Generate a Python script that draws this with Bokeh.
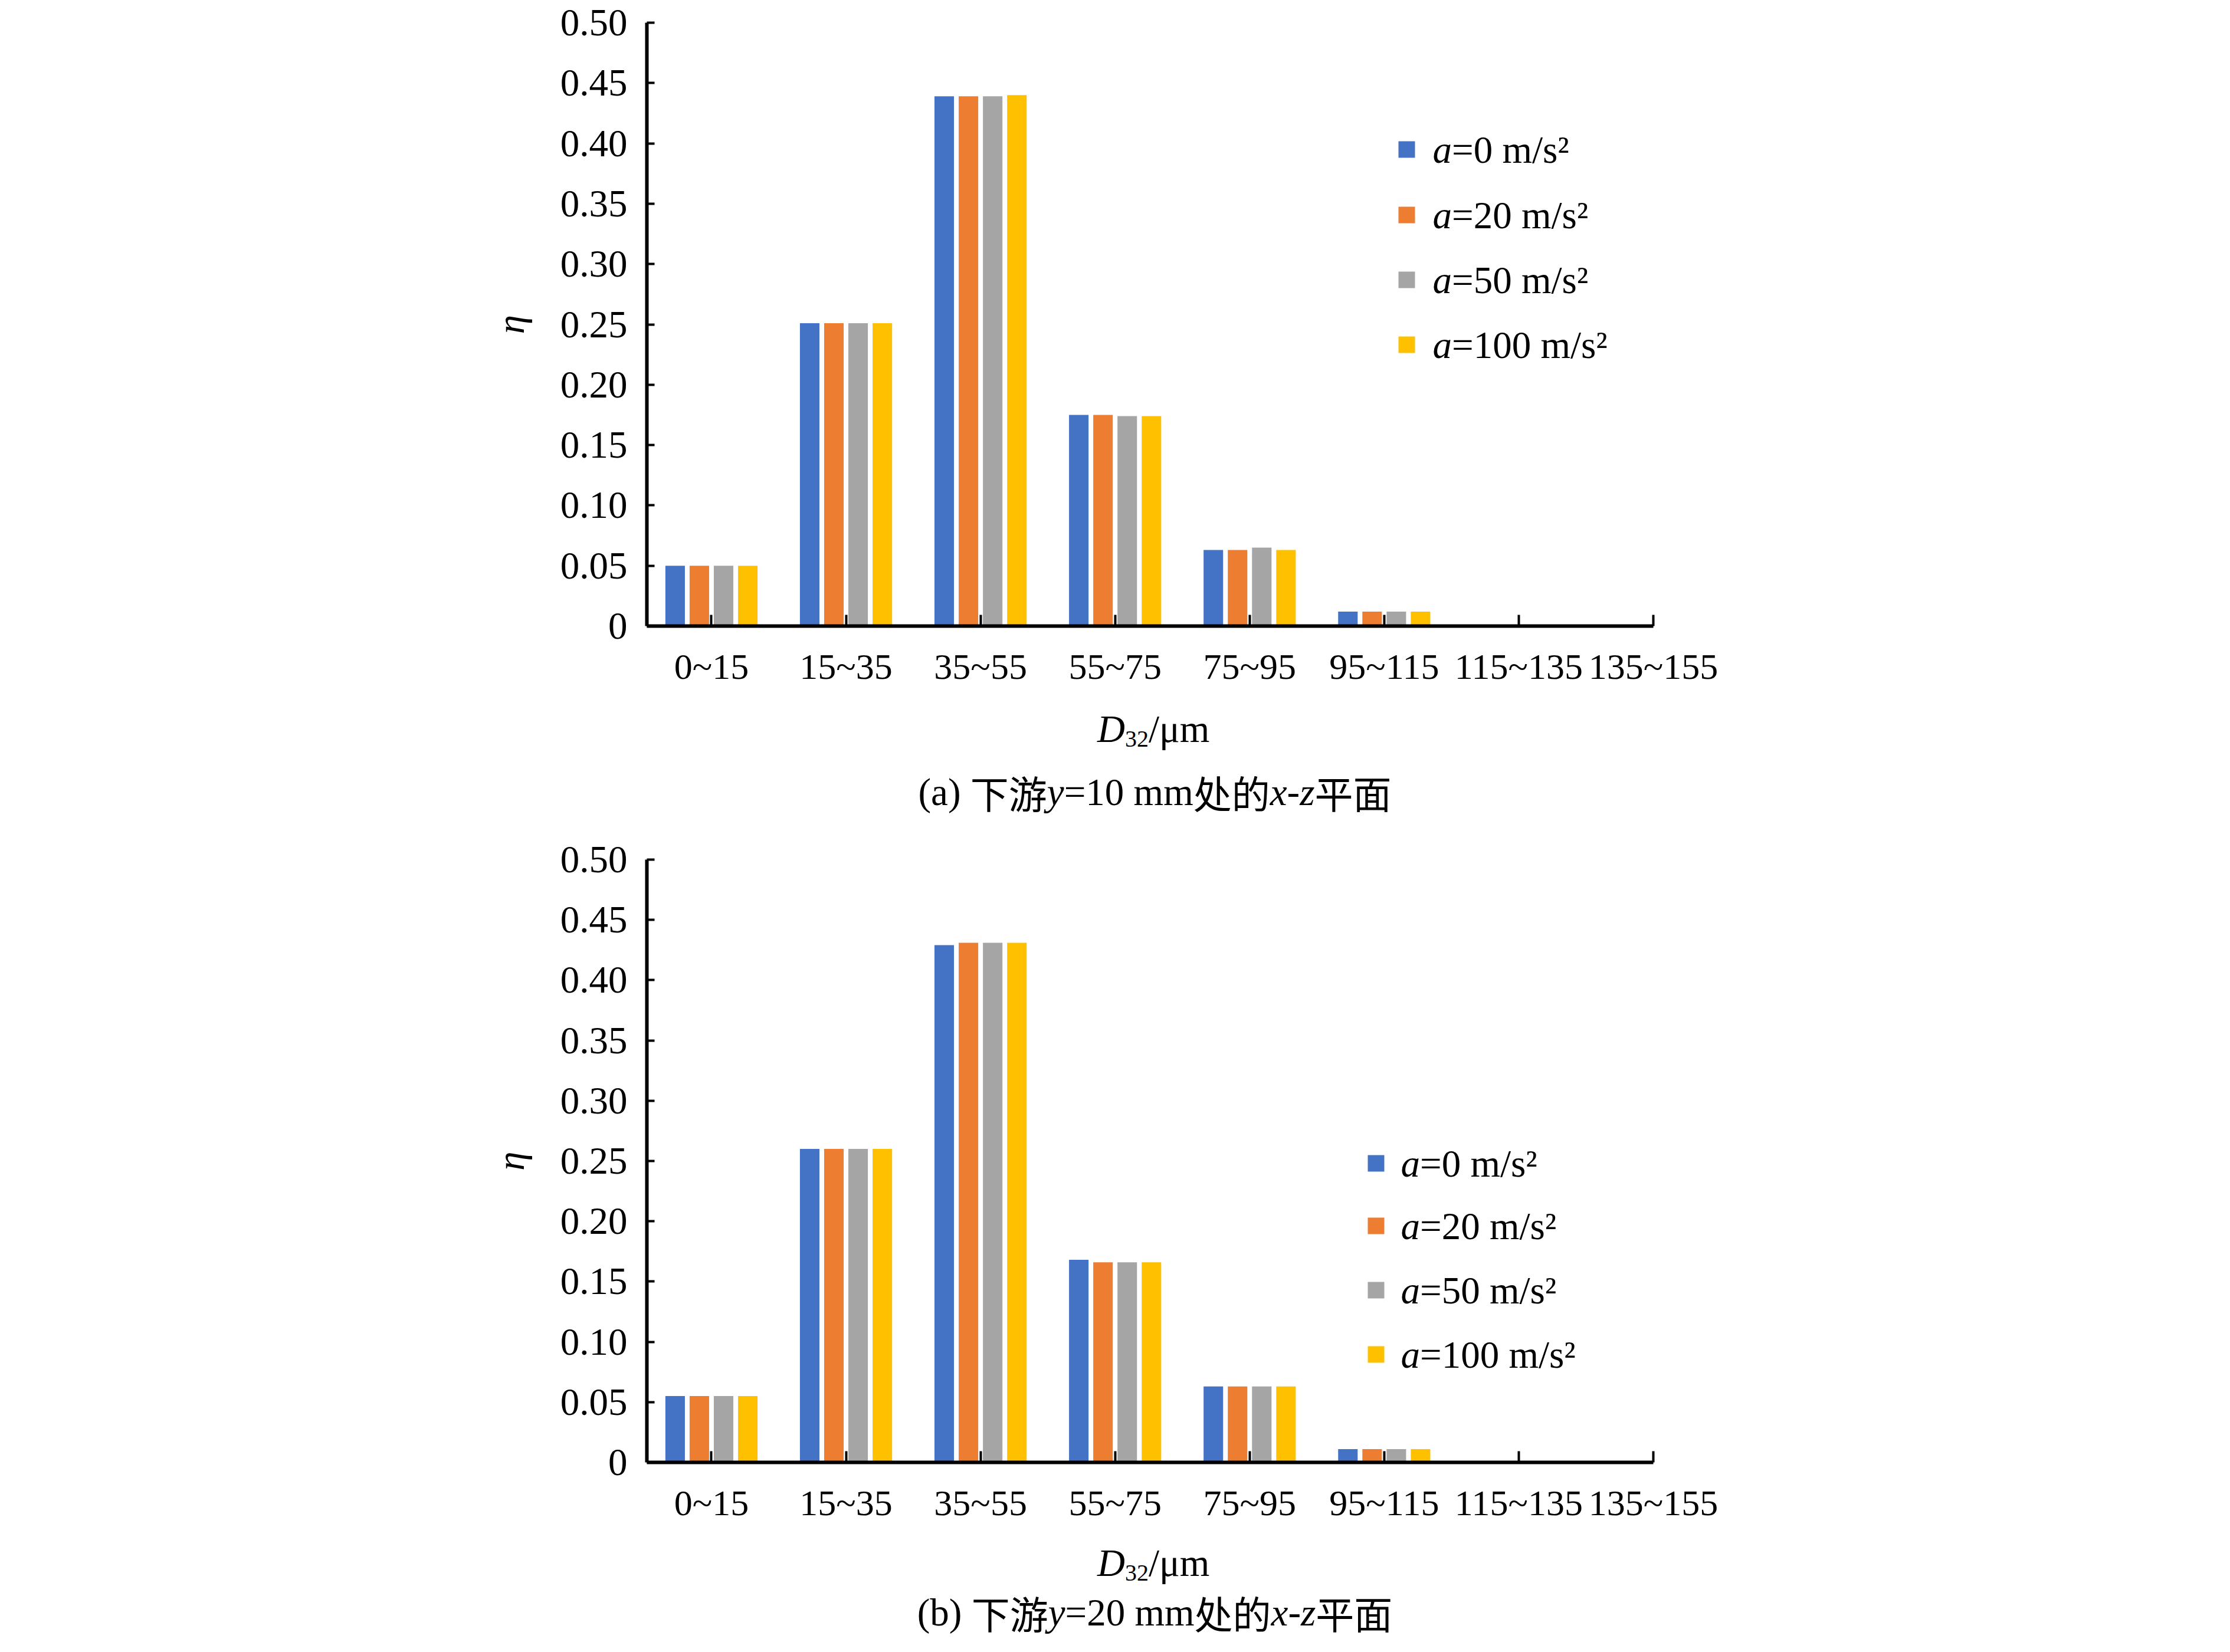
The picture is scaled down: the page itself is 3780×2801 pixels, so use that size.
from bokeh.plotting import figure
from bokeh.models import Range1d, FixedTicker, Label, BoxAnnotation, ColumnDataSource
from bokeh.layouts import column
from bokeh.embed import file_html
from bokeh.resources import INLINE

# ---------------- data ----------------
categories = ["0~15", "15~35", "35~55", "55~75", "75~95", "95~115", "115~135", "135~155"]
accel = ["0", "20", "50", "100"]
colors = ["#4472C4", "#ED7D31", "#A5A5A5", "#FFC000"]

# (a) y = 10 mm
eta_a_0 = [0.050, 0.251, 0.439, 0.175, 0.063, 0.012, 0.0, 0.0]
eta_a_20 = [0.050, 0.251, 0.439, 0.175, 0.063, 0.012, 0.0, 0.0]
eta_a_50 = [0.050, 0.251, 0.439, 0.174, 0.065, 0.012, 0.0, 0.0]
eta_a_100 = [0.050, 0.251, 0.440, 0.174, 0.063, 0.012, 0.0, 0.0]

# (b) y = 20 mm
eta_b_0 = [0.055, 0.260, 0.429, 0.168, 0.063, 0.011, 0.0, 0.0]
eta_b_20 = [0.055, 0.260, 0.431, 0.166, 0.063, 0.011, 0.0, 0.0]
eta_b_50 = [0.055, 0.260, 0.431, 0.166, 0.063, 0.011, 0.0, 0.0]
eta_b_100 = [0.055, 0.260, 0.431, 0.166, 0.063, 0.011, 0.0, 0.0]

y_ticks = [0.0, 0.05, 0.10, 0.15, 0.20, 0.25, 0.30, 0.35, 0.40, 0.45, 0.50]

# ---------------- style ----------------
SERIF = "Liberation Serif"
CJK = "Noto Sans CJK SC"
FS = 65
PAGE_W = 3764
FRAME_LEFT = 1096
FRAME_W = 1706
FRAME_RIGHT = PAGE_W - FRAME_LEFT - FRAME_W
BAR_W = 0.145
BAR_STEP = 0.18

# Times-compatible advance widths (em) used to lay out mixed-style text runs
ADV_N = {"(": 0.333, ")": 0.333, "a": 0.444, "b": 0.5, " ": 0.25, "=": 0.564,
         "m": 0.778, "-": 0.333, "/": 0.278, "s": 0.389, "\u00b2": 0.3, "\u03bc": 0.576}
ADV_I = {"a": 0.5, "y": 0.444, "x": 0.444, "z": 0.389, "D": 0.722}


def run_width(text, size, font, italic):
    w = 0.0
    for ch in text:
        if font == CJK:
            w += 1.0
        elif ch.isdigit():
            w += 0.5
        elif italic:
            w += ADV_I.get(ch, 0.5)
        else:
            w += ADV_N.get(ch, 0.5)
    return w * size


def add_runs(p, runs, cx, y):
    """runs: list of (text, font, italic, size, dy); centred at cx, middle at y (screen units)."""
    total = sum(run_width(t, s, f, i) for t, f, i, s, dy in runs)
    x = cx - total / 2.0
    for t, f, i, s, dy in runs:
        p.add_layout(Label(x=x, y=y + dy, x_units="screen", y_units="screen", text=t,
                           text_font=f, text_font_size=f"{s}px",
                           text_font_style="italic" if i else "normal",
                           text_color="black", text_align="left",
                           text_baseline="middle"))
        x += run_width(t, s, f, i)


def make_chart(series, height, top, frame_h, sq_left, rows, text_x):
    bottom = height - top - frame_h
    p = figure(width=PAGE_W, height=height, output_backend="svg", toolbar_location=None,
               x_range=Range1d(-0.48, 7.0), y_range=Range1d(0, 0.5),
               min_border_left=FRAME_LEFT, min_border_right=FRAME_RIGHT,
               min_border_top=top, min_border_bottom=bottom)
    p.outline_line_color = None
    p.grid.visible = False
    p.background_fill_color = "white"
    p.border_fill_color = "white"

    idx = list(range(len(categories)))
    for k, vals in enumerate(series):
        off = (k - 1.5) * BAR_STEP
        src = ColumnDataSource(dict(x=[i + off for i in idx], top=vals))
        p.vbar(x="x", top="top", width=BAR_W, source=src, fill_color=colors[k], line_color=None)

    xa = p.xaxis[0]
    xa.ticker = FixedTicker(ticks=idx)
    xa.major_label_overrides = {i: c for i, c in enumerate(categories)}
    xa.major_tick_in = 19
    xa.major_tick_out = 0
    xa.minor_tick_line_color = None
    xa.axis_line_width = 6
    xa.major_tick_line_width = 4
    xa.major_label_text_font = SERIF
    xa.major_label_text_font_size = "62px"
    xa.major_label_text_color = "black"
    xa.major_label_standoff = 34

    ya = p.yaxis[0]
    ya.ticker = FixedTicker(ticks=y_ticks)
    ya.major_label_overrides = {t: ("0" if t == 0 else f"{t:.2f}") for t in y_ticks}
    ya.major_tick_in = 13
    ya.major_tick_out = 0
    ya.minor_tick_line_color = None
    ya.axis_line_width = 6
    ya.major_tick_line_width = 4
    ya.major_label_text_font = SERIF
    ya.major_label_text_font_size = f"{FS}px"
    ya.major_label_text_color = "black"
    ya.major_label_standoff = 33
    ya.axis_label = "\u03b7"
    ya.axis_label_text_font = SERIF
    ya.axis_label_text_font_style = "italic"
    ya.axis_label_text_font_size = f"{FS}px"
    ya.axis_label_text_color = "black"
    ya.axis_label_standoff = 45

    # legend
    for k, ry in enumerate(rows):
        p.add_layout(BoxAnnotation(left=sq_left, right=sq_left + 28, bottom=ry - 14, top=ry + 14,
                                   left_units="screen", right_units="screen",
                                   top_units="screen", bottom_units="screen",
                                   fill_color=colors[k], fill_alpha=1.0, line_color=None))
        p.add_layout(Label(x=text_x, y=ry, x_units="screen", y_units="screen", text="a",
                           text_font=SERIF, text_font_style="italic", text_font_size=f"{FS}px",
                           text_color="black", text_baseline="middle"))
        p.add_layout(Label(x=text_x + 0.5 * FS, y=ry, x_units="screen", y_units="screen",
                           text=f"={accel[k]} m/s\u00b2",
                           text_font=SERIF, text_font_size=f"{FS}px",
                           text_color="black", text_baseline="middle"))
    return p


def make_caption(height, letter, ypos, xlabel_y, caption_y):
    p = figure(width=PAGE_W, height=height, output_backend="svg", toolbar_location=None,
               x_range=Range1d(0, 1), y_range=Range1d(0, 1),
               min_border_left=FRAME_LEFT, min_border_right=FRAME_RIGHT,
               min_border_top=0, min_border_bottom=0)
    p.xaxis.visible = False
    p.yaxis.visible = False
    p.grid.visible = False
    p.outline_line_color = None
    p.background_fill_color = "white"
    p.border_fill_color = "white"
    # x-axis title  D32/um
    add_runs(p, [("D", SERIF, True, FS, 0), ("32", SERIF, False, 40, -17),
                 ("/\u03bcm", SERIF, False, FS, 0)], 860, xlabel_y)
    # caption
    add_runs(p, [(f"({letter}) ", SERIF, False, FS, 0), ("下游", CJK, False, FS, 0),
                 ("y", SERIF, True, FS, 0), (f"={ypos} mm", SERIF, False, FS, 0),
                 ("处的", CJK, False, FS, 0), ("x", SERIF, True, FS, 0),
                 ("-", SERIF, False, FS, 0), ("z", SERIF, True, FS, 0),
                 ("平面", CJK, False, FS, 0)], 861, caption_y)
    return p


pa = make_chart([eta_a_0, eta_a_20, eta_a_50, eta_a_100],
                height=1171, top=38, frame_h=1023,
                sq_left=1274, rows=[808, 697, 587, 477], text_x=1332)
ca = make_caption(221, "a", 10, xlabel_y=157, caption_y=50)
pb = make_chart([eta_b_0, eta_b_20, eta_b_50, eta_b_100],
                height=1197, top=65, frame_h=1022,
                sq_left=1222, rows=[507, 401, 292, 183], text_x=1278)
cb = make_caption(196, "b", 20, xlabel_y=136, caption_y=52)

layout = column(pa, ca, pb, cb, spacing=0)
open("out.html", "w").write(file_html(layout, INLINE))
